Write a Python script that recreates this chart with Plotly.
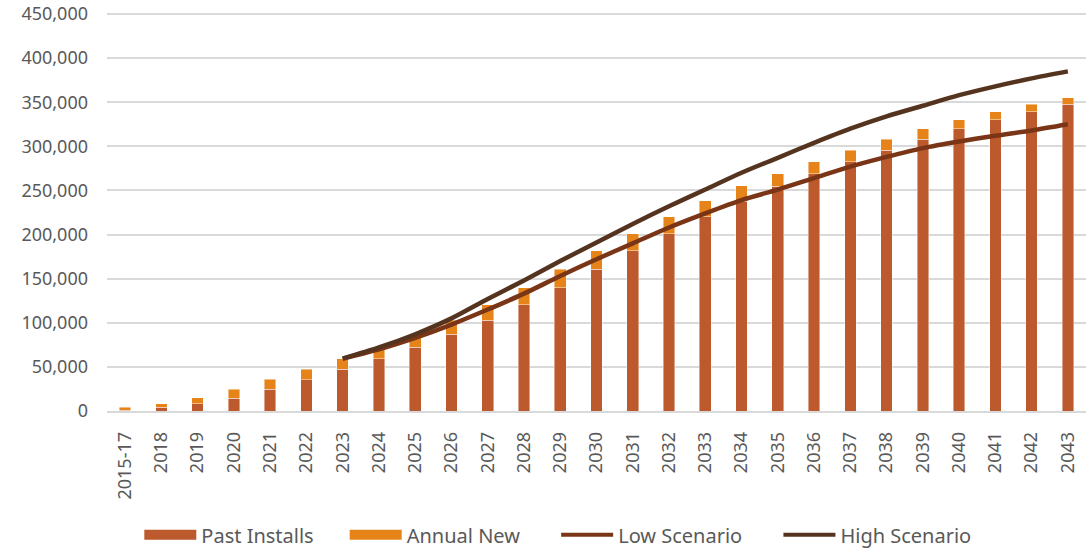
import plotly.graph_objects as go

categories = ["2015-17", "2018", "2019", "2020", "2021", "2022", "2023", "2024", "2025",
              "2026", "2027", "2028", "2029", "2030", "2031", "2032", "2033", "2034",
              "2035", "2036", "2037", "2038", "2039", "2040", "2041", "2042", "2043"]

past_installs = [1000, 4000, 8500, 14500, 24500, 35500, 47500, 59500, 72500, 87000,
                 103000, 120500, 139500, 160500, 181500, 201000, 220000, 238000, 255000,
                 268800, 282700, 295800, 308200, 319900, 330200, 339200, 347700]

annual_new = [3200, 4300, 6300, 10300, 11500, 11900, 11900, 13000, 14500, 16000,
              17700, 19300, 21000, 21100, 19200, 18900, 18300, 17200, 13800,
              13900, 13100, 12400, 11700, 10500, 9200, 8500, 7500]

low_scenario = [None, None, None, None, None, None,
                59400, 70000, 83000, 98000, 115000, 133000, 153000, 172000, 190000,
                208000, 224000, 239000, 251000, 264000, 277000, 288000, 298000,
                305500, 312000, 318000, 325000]

high_scenario = [None, None, None, None, None, None,
                 59400, 72000, 87000, 105000, 127000, 148000, 170000, 191000, 212000,
                 232000, 251000, 270000, 287000, 304000, 320000, 334000, 346000,
                 358000, 368000, 377000, 385000]

y_ticks = [0, 50000, 100000, 150000, 200000, 250000, 300000, 350000, 400000, 450000]

C_PAST = "#BC5A2D"
C_NEW = "#E6841A"
C_LOW = "#7A3516"
C_HIGH = "#55341F"
FONT = "Noto Sans"
TXT = "#595959"
NB = "\u00a0"

fig = go.Figure()
bar_line = dict(color="rgba(255,255,255,0.55)", width=0.8)
fig.add_trace(go.Bar(x=categories, y=past_installs, name="Past Installs",
                     marker=dict(color=C_PAST, line=bar_line), showlegend=False))
fig.add_trace(go.Bar(x=categories, y=annual_new, name="Annual New",
                     marker=dict(color=C_NEW, line=bar_line), showlegend=False))
fig.add_trace(go.Scatter(x=categories, y=low_scenario, name="Low Scenario", mode="lines",
                         line=dict(color=C_LOW, width=4.5, shape="spline", smoothing=0.8),
                         showlegend=False, connectgaps=False))
fig.add_trace(go.Scatter(x=categories, y=high_scenario, name="High Scenario", mode="lines",
                         line=dict(color=C_HIGH, width=4.5, shape="spline", smoothing=0.8),
                         showlegend=False, connectgaps=False))

# legend entries
for nm, col, w, pad in [("Past Installs", C_PAST, 15, 5), ("Annual New", C_NEW, 15, 6),
                        ("Low Scenario", C_LOW, 4, 6), ("High Scenario", C_HIGH, 4, 0)]:
    fig.add_trace(go.Scatter(x=[None], y=[None], name=nm + NB * pad, mode="lines",
                             line=dict(color=col, width=w), showlegend=True))

fig.update_layout(
    width=1088, height=556,
    margin=dict(l=107, r=2, t=12, b=145, autoexpand=False),
    barmode="stack", bargap=0.68,
    plot_bgcolor="white", paper_bgcolor="white",
    font=dict(family=FONT, color=TXT, size=17),
    showlegend=True,
    legend=dict(orientation="h", x=0.033, xanchor="left", y=-0.31, yanchor="middle",
                font=dict(size=20, color=TXT, family=FONT),
                itemwidth=52, traceorder="normal"),
)
fig.update_yaxes(range=[0, 452256], tickvals=y_ticks,
                 tickformat=",", showgrid=True, ticklabeloverflow="allow",
                 gridcolor="#D9D9D9", gridwidth=1.5, zeroline=False, showline=False,
                 ticks="", ticklabelstandoff=18, automargin=False,
                 tickfont=dict(size=18, color=TXT))
fig.update_xaxes(type="category", tickangle=-90, showgrid=False, showline=True,
                 linecolor="#D9D9D9", linewidth=1.5, ticks="", ticklabelstandoff=12,
                 automargin=False, tickfont=dict(size=18, color=TXT))

fig.write_html("out.html", config={"displayModeBar": False},
               post_script="document.body.style.margin='0px';")
